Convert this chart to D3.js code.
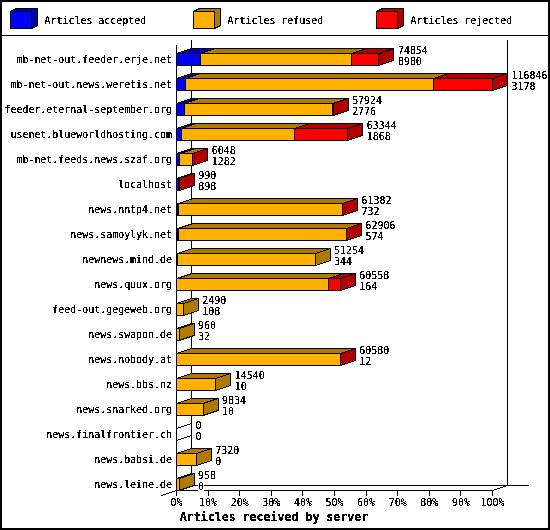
<!DOCTYPE html>
<html lang="en">
<head>
  <meta charset="UTF-8">
  <title>Articles received by server</title>
  <script src="https://d3js.org/d3.v7.min.js"></script>
  <style>
    html, body { margin: 0; padding: 0; background: #fff; }
    svg { display: block; }
    text { font-family: "DejaVu Sans Mono", monospace; font-size: 9.95px; fill: #000; filter: url(#hard); }
    .title { font-size: 11.6px; font-weight: bold; }
    path, line, rect { shape-rendering: crispEdges; }
    path.bar { stroke: #000; stroke-width: 1; }
  </style>
</head>
<body>
  <script>
    const servers = ['mb-net-out.feeder.erje.net', 'mb-net-out.news.weretis.net', 'feeder.eternal-september.org',
      'usenet.blueworldhosting.com', 'mb-net.feeds.news.szaf.org', 'localhost', 'news.nntp4.net', 'news.samoylyk.net',
      'newnews.mind.de', 'news.quux.org', 'feed-out.gegeweb.org', 'news.swapon.de', 'news.nobody.at', 'news.bbs.nz',
      'news.snarked.org', 'news.finalfrontier.ch', 'news.babsi.de', 'news.leine.de'];
    const totals = [74854, 116846, 57924, 63344, 6048, 990, 61382, 62906, 51254, 60558, 2490, 960, 60580, 14540, 9834, 0, 7320, 958];
    const accepted = [8980, 3178, 2776, 1868, 1282, 898, 732, 574, 344, 164, 108, 32, 12, 10, 10, 0, 0, 0];
    const rejected = [10060, 21890, 60, 19780, 20, 92, 90, 50, 0, 4440, 0, 0, 40, 0, 0, 0, 0, 0];
    const percentTicks = [0, 10, 20, 30, 40, 50, 60, 70, 80, 90, 100];
    const legendNames = ['Articles accepted', 'Articles refused', 'Articles rejected'];
    const fills = ['#0000ff', '#ffb000', '#ff0000'];
    const darks = ['#0000b0', '#b07a00', '#b00000'];

    const width = 550, height = 530;
    const depthX = 15, depthY = 5;

    const svg = d3.select('body').append('svg')
      .attr('width', width)
      .attr('height', height);

    // thresholds the text alpha so glyphs look like the bitmap font of the original
    svg.append('defs').append('filter').attr('id', 'hard')
      .append('feComponentTransfer').append('feFuncA')
      .attr('type', 'discrete').attr('tableValues', '0 1 1');

    const x = d3.scaleLinear().domain([0, d3.max(totals)]).range([176.5, 492.5]);
    const y = d3.scalePoint().domain(servers).range([59, 484]);
    const barH = 12;

    // frame
    svg.append('rect').attr('x', 1).attr('y', 1).attr('width', 548).attr('height', 528)
      .attr('fill', '#fff').attr('stroke', '#000').attr('stroke-width', 2);
    svg.append('line').attr('x1', 0).attr('x2', width).attr('y1', 35.5).attr('y2', 35.5).attr('stroke', '#000');

    // legend
    const legendX = [10.5, 193.5, 376.5];
    const legend = svg.append('g').selectAll('g').data(legendNames).enter().append('g');
    legend.each(function(name, i) {
      const g = d3.select(this), x0 = legendX[i], w = 21, top = 11.5, bottom = 28.5;
      g.append('path').attr('class', 'bar').attr('fill', darks[i])
        .attr('d', `M${x0},${top}L${x0 + 6},${top - 3}H${x0 + w + 6}V${bottom - 3}L${x0 + w},${bottom}V${top}Z`);
      g.append('rect').attr('x', x0).attr('y', top).attr('width', w).attr('height', bottom - top)
        .attr('fill', fills[i]).attr('stroke', '#000');
      g.append('text').attr('x', x0 + 34).attr('y', 23.5).text(name);
    });

    // walls
    const axes = svg.append('g').attr('stroke', '#000').attr('fill', 'none');
    const x0 = x.range()[0], x1 = x.range()[1], floor = 490.5;
    axes.append('path').attr('d', `M${x0},45V${floor}H${x1}L${x1 + depthX},${floor - depthY}`);
    axes.append('path').attr('d', `M${x0 + depthX},40V${floor - depthY}H529`);
    axes.append('path').attr('d', `M${x1 + depthX},40V${floor - depthY}`);
    axes.append('path').attr('d', `M161.5,495.5L${x0 + depthX},${floor - depthY}`);

    // x ticks and labels, percent of the largest total
    const tickScale = d3.scaleLinear().domain([0, 100]).range(x.range());
    axes.selectAll('.tick').data(percentTicks).enter().append('line').attr('class', 'tick')
      .attr('x1', d => tickScale(d)).attr('x2', d => tickScale(d))
      .attr('y1', floor).attr('y2', floor + 5);
    svg.append('g').selectAll('text').data(percentTicks).enter().append('text')
      .attr('x', d => tickScale(d)).attr('y', 506).attr('text-anchor', 'middle').text(d => d + '%');

    svg.append('text').attr('class', 'title').attr('x', 274).attr('y', 521).attr('text-anchor', 'middle')
      .text('Articles received by server');

    // rows
    const rows = svg.append('g').selectAll('g').data(servers).enter().append('g');
    rows.each(function(name, i) {
      const g = d3.select(this), cy = y(name), top = cy - 5.5, bottom = top + barH;
      const refused = Math.max(totals[i] - accepted[i] - rejected[i], 0);
      const parts = [accepted[i], refused, rejected[i]];
      const lastPart = parts.reduce((a, v, k) => v > 0 ? k : a, 0);
      let start = 0;
      parts.forEach((v, k) => {
        if (v <= 0) return;
        const a = x(start), b = x(start + v);
        start += v;
        const w = b - a;
        if (w < 1) return;
        if (w < 2.2) {
          // too thin to show a colour, the outline eats it
          g.append('rect').attr('x', a).attr('y', top).attr('width', w).attr('height', barH)
            .attr('fill', '#000').attr('stroke', '#000');
          return;
        }
        g.append('path').attr('class', 'bar').attr('fill', darks[k])
          .attr('d', `M${a},${top}L${a + depthX},${top - depthY}H${b + depthX}L${b},${top}Z`);
        g.append('rect').attr('x', a).attr('y', top).attr('width', w).attr('height', barH)
          .attr('fill', fills[k]).attr('stroke', '#000');
      });
      const end = x(totals[i]);
      if (totals[i] > 0) {
        g.append('path').attr('class', 'bar').attr('fill', darks[lastPart])
          .attr('d', `M${end},${top}L${end + depthX},${top - depthY}V${bottom - depthY}L${end},${bottom}Z`);
      } else {
        // empty row: only the two depth edges are left
        g.append('path').attr('fill', 'none').attr('stroke', '#000')
          .attr('d', `M${end},${top}L${end + depthX},${top - depthY}M${end},${bottom}L${end + depthX},${bottom - depthY}`);
      }
      g.append('text').attr('x', 172).attr('y', cy + 3.5).attr('text-anchor', 'end').text(name);
      const labelX = end + depthX + 4;
      g.append('rect').attr('x', labelX).attr('y', cy - 3).attr('height', 11)
        .attr('width', String(accepted[i]).length * 6).attr('fill', '#fff');
      g.append('text').attr('x', labelX).attr('y', cy - 5).text(totals[i]);
      g.append('text').attr('x', labelX).attr('y', cy + 6).text(accepted[i]);
    });
  </script>
</body>
</html>
